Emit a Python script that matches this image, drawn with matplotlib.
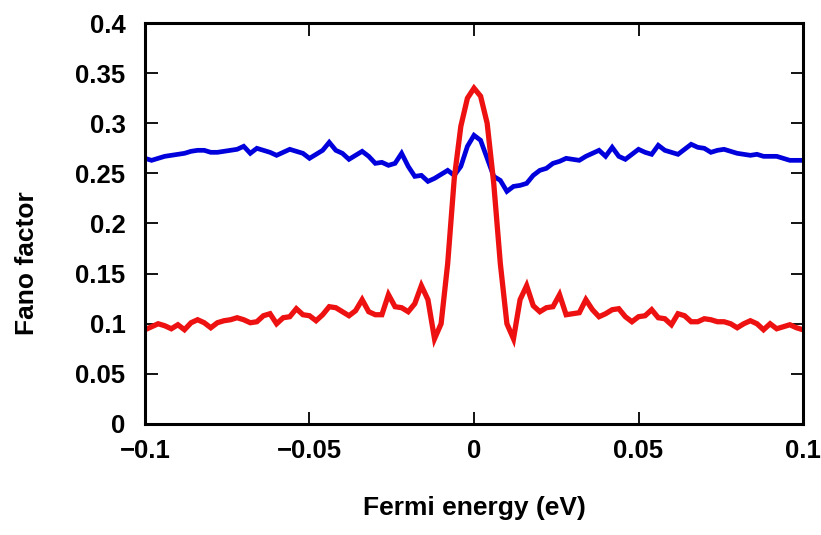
import numpy as np
import matplotlib.pyplot as plt

plt.rcParams['font.family'] = ['Liberation Sans', 'DejaVu Sans']
plt.rcParams['font.weight'] = 'bold'

# Fermi energy grid (eV), step 0.002
energy = np.linspace(-0.1, 0.1, 101)

fano_blue = [
    0.265, 0.263, 0.265, 0.267, 0.268, 0.269, 0.270, 0.272, 0.273, 0.273,
    0.271, 0.271, 0.272, 0.273, 0.274, 0.277, 0.270, 0.275, 0.273, 0.271,
    0.268, 0.271, 0.274, 0.272, 0.270, 0.265, 0.269, 0.273, 0.281, 0.273,
    0.270, 0.264, 0.268, 0.272, 0.267, 0.260, 0.261, 0.258, 0.260, 0.270,
    0.257, 0.247, 0.248, 0.242, 0.245, 0.249, 0.253, 0.248, 0.257, 0.277,
    0.288, 0.283, 0.265, 0.247, 0.243, 0.232, 0.237, 0.238, 0.240, 0.248,
    0.253, 0.255, 0.260, 0.262, 0.265, 0.264, 0.263, 0.267, 0.270, 0.273,
    0.267, 0.276, 0.267, 0.264, 0.269, 0.274, 0.271, 0.269, 0.278, 0.273,
    0.271, 0.269, 0.274, 0.279, 0.276, 0.275, 0.271, 0.273, 0.274, 0.272,
    0.270, 0.269, 0.268, 0.269, 0.267, 0.267, 0.267, 0.265, 0.263, 0.263,
    0.263,
]

fano_red = [
    0.094, 0.097, 0.100, 0.098, 0.095, 0.099, 0.094, 0.101, 0.104, 0.101,
    0.096, 0.101, 0.103, 0.104, 0.106, 0.104, 0.101, 0.102, 0.108, 0.110,
    0.100, 0.106, 0.107, 0.115, 0.109, 0.108, 0.103, 0.109, 0.117, 0.116,
    0.112, 0.108, 0.113, 0.124, 0.112, 0.109, 0.109, 0.129, 0.117, 0.116,
    0.112, 0.120, 0.138, 0.124, 0.085, 0.100, 0.160, 0.245, 0.297, 0.325,
    0.335, 0.327, 0.300, 0.240, 0.160, 0.100, 0.085, 0.124, 0.138, 0.118,
    0.112, 0.116, 0.117, 0.129, 0.109, 0.110, 0.111, 0.124, 0.114, 0.107,
    0.110, 0.114, 0.115, 0.107, 0.102, 0.107, 0.108, 0.114, 0.106, 0.105,
    0.099, 0.110, 0.108, 0.102, 0.102, 0.105, 0.104, 0.102, 0.102, 0.100,
    0.096, 0.100, 0.103, 0.100, 0.094, 0.100, 0.095, 0.097, 0.099, 0.096,
    0.094,
]

xticks = [-0.1, -0.05, 0, 0.05, 0.1]
xticklabels = ['\u22120.1', '\u22120.05', '0', '0.05', '0.1']
yticks = [0, 0.05, 0.1, 0.15, 0.2, 0.25, 0.3, 0.35, 0.4]
yticklabels = ['0', '0.05', '0.1', '0.15', '0.2', '0.25', '0.3', '0.35', '0.4']

fig = plt.figure(figsize=(8.21, 5.35), dpi=100)
ax = fig.add_axes([0.1766, 0.2075, 0.8015, 0.7495])

ax.plot(energy, fano_blue, color='#0000dd', lw=3.4, solid_joinstyle='miter')
ax.plot(energy, fano_red, color='#ee1111', lw=3.8, solid_joinstyle='miter')

ax.set_xlim(-0.1, 0.1)
ax.set_ylim(0, 0.4)
ax.set_xticks(xticks)
ax.set_xticklabels(xticklabels)
ax.set_yticks(yticks)
ax.set_yticklabels(yticklabels)

ax.tick_params(direction='in', length=9, width=1.3, labelsize=18.5,
               top=True, right=True, pad=11)
ax.tick_params(axis='y', pad=14)
for s in ax.spines.values():
    s.set_linewidth(2.2)

ax.set_xlabel('Fermi energy (eV)', fontsize=19, fontweight='bold', va='center')
ax.set_ylabel('Fano factor', fontsize=19, fontweight='bold', va='center')
ax.xaxis.set_label_coords(0.5, -0.21)
ax.yaxis.set_label_coords(-0.179, 0.40)

fig.savefig('out.png', dpi=100)
